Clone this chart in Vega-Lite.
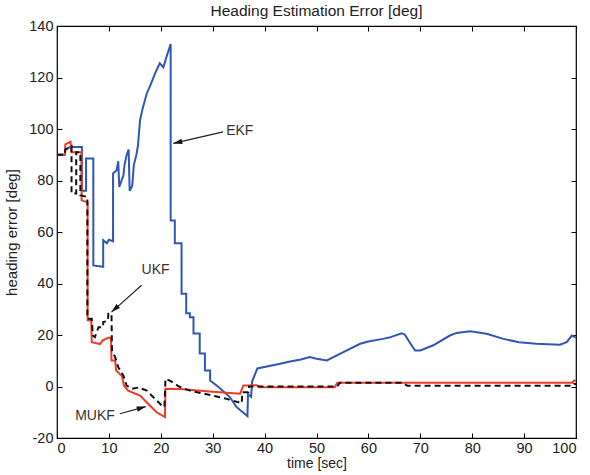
{
  "$schema": "https://vega.github.io/schema/vega-lite/v6.json",
  "width": 519,
  "height": 412,
  "autosize": {"type": "none"},
  "padding": {"left": 57, "top": 26, "right": 14, "bottom": 37},
  "background": "white",
  "title": {"text": "Heading Estimation Error [deg]", "font": "Liberation Sans", "fontSize": 15.5, "fontWeight": "normal", "color": "#222", "offset": -1},
  "config": {
    "view": {"stroke": "#000", "strokeWidth": 1.2},
    "axis": {
      "domain": false, "grid": false,
      "tickSize": -5, "tickColor": "#000", "tickWidth": 1,
      "labelFont": "Liberation Sans", "labelFontSize": 14.5, "labelColor": "#222",
      "labelExpr": "'' + datum.value",
      "titleFont": "Liberation Sans", "titleFontSize": 15, "titleFontWeight": "normal", "titleColor": "#222"
    }
  },
  "datasets": {
    "series": [
      {"t": 0, "v": 90, "f": "EKF"}, {"t": 1.5, "v": 90, "f": "EKF"}, {"t": 1.6, "v": 92, "f": "EKF"}, {"t": 2.5, "v": 93, "f": "EKF"},
      {"t": 4.8, "v": 93, "f": "EKF"}, {"t": 4.8, "v": 76, "f": "EKF"}, {"t": 5.6, "v": 76, "f": "EKF"}, {"t": 5.6, "v": 88.5, "f": "EKF"},
      {"t": 7.0, "v": 88.5, "f": "EKF"}, {"t": 7.0, "v": 47, "f": "EKF"}, {"t": 8.9, "v": 46.5, "f": "EKF"}, {"t": 8.9, "v": 56.8, "f": "EKF"},
      {"t": 9.6, "v": 55.6, "f": "EKF"}, {"t": 10.0, "v": 57, "f": "EKF"}, {"t": 10.8, "v": 56.4, "f": "EKF"}, {"t": 10.8, "v": 82.7, "f": "EKF"},
      {"t": 11.5, "v": 84, "f": "EKF"}, {"t": 11.8, "v": 87.5, "f": "EKF"}, {"t": 12.0, "v": 77.5, "f": "EKF"}, {"t": 12.8, "v": 82, "f": "EKF"},
      {"t": 13.0, "v": 86, "f": "EKF"}, {"t": 13.4, "v": 89.8, "f": "EKF"}, {"t": 13.8, "v": 92, "f": "EKF"}, {"t": 14.0, "v": 76, "f": "EKF"},
      {"t": 14.5, "v": 78, "f": "EKF"}, {"t": 14.8, "v": 86, "f": "EKF"}, {"t": 15.3, "v": 90, "f": "EKF"}, {"t": 15.6, "v": 93.5, "f": "EKF"},
      {"t": 16.0, "v": 103.4, "f": "EKF"}, {"t": 16.5, "v": 108, "f": "EKF"}, {"t": 17.3, "v": 113.8, "f": "EKF"}, {"t": 18.0, "v": 117, "f": "EKF"},
      {"t": 18.9, "v": 121.6, "f": "EKF"}, {"t": 19.8, "v": 125.5, "f": "EKF"}, {"t": 20.5, "v": 124, "f": "EKF"}, {"t": 21.1, "v": 128, "f": "EKF"},
      {"t": 21.9, "v": 133, "f": "EKF"}, {"t": 21.9, "v": 64.5, "f": "EKF"}, {"t": 22.7, "v": 64.5, "f": "EKF"}, {"t": 22.7, "v": 55.6, "f": "EKF"},
      {"t": 24.0, "v": 55.6, "f": "EKF"}, {"t": 24.0, "v": 36, "f": "EKF"}, {"t": 24.9, "v": 36, "f": "EKF"}, {"t": 24.9, "v": 28.4, "f": "EKF"},
      {"t": 25.6, "v": 28.4, "f": "EKF"}, {"t": 25.6, "v": 26.9, "f": "EKF"}, {"t": 26.3, "v": 26.9, "f": "EKF"}, {"t": 26.3, "v": 20.6, "f": "EKF"},
      {"t": 27.5, "v": 20.6, "f": "EKF"}, {"t": 27.5, "v": 12.8, "f": "EKF"}, {"t": 28.5, "v": 12.8, "f": "EKF"}, {"t": 28.5, "v": 6.2, "f": "EKF"},
      {"t": 29.5, "v": 6.2, "f": "EKF"}, {"t": 29.5, "v": 2.3, "f": "EKF"}, {"t": 31, "v": 0, "f": "EKF"}, {"t": 33.3, "v": -4.1, "f": "EKF"},
      {"t": 34.6, "v": -8, "f": "EKF"}, {"t": 35.5, "v": -9.5, "f": "EKF"}, {"t": 36.7, "v": -11.5, "f": "EKF"}, {"t": 36.8, "v": -3, "f": "EKF"},
      {"t": 37.4, "v": -4, "f": "EKF"}, {"t": 37.6, "v": 2, "f": "EKF"}, {"t": 38.3, "v": 5.5, "f": "EKF"}, {"t": 38.6, "v": 7, "f": "EKF"},
      {"t": 43, "v": 8.8, "f": "EKF"}, {"t": 44.9, "v": 9.7, "f": "EKF"}, {"t": 47, "v": 10.5, "f": "EKF"}, {"t": 48.7, "v": 11.4, "f": "EKF"},
      {"t": 50, "v": 10.8, "f": "EKF"}, {"t": 52, "v": 10.1, "f": "EKF"}, {"t": 54.5, "v": 12.7, "f": "EKF"}, {"t": 58.4, "v": 16.6, "f": "EKF"},
      {"t": 60, "v": 17.5, "f": "EKF"}, {"t": 62.8, "v": 18.5, "f": "EKF"}, {"t": 64, "v": 19, "f": "EKF"}, {"t": 66.4, "v": 20.7, "f": "EKF"},
      {"t": 67, "v": 20.2, "f": "EKF"}, {"t": 68, "v": 17, "f": "EKF"}, {"t": 69, "v": 14, "f": "EKF"}, {"t": 70, "v": 14, "f": "EKF"},
      {"t": 72.5, "v": 16, "f": "EKF"}, {"t": 75.7, "v": 19.8, "f": "EKF"}, {"t": 77, "v": 20.8, "f": "EKF"}, {"t": 79.6, "v": 21.5, "f": "EKF"},
      {"t": 82.8, "v": 20.5, "f": "EKF"}, {"t": 86, "v": 18.5, "f": "EKF"}, {"t": 89, "v": 17.2, "f": "EKF"}, {"t": 92.4, "v": 16.6, "f": "EKF"},
      {"t": 96.9, "v": 16.2, "f": "EKF"}, {"t": 98.2, "v": 17.2, "f": "EKF"}, {"t": 99.2, "v": 19.8, "f": "EKF"}, {"t": 100, "v": 19, "f": "EKF"},

      {"t": 0, "v": 90, "f": "MUKF"}, {"t": 1.5, "v": 90, "f": "MUKF"}, {"t": 1.6, "v": 94, "f": "MUKF"}, {"t": 2.6, "v": 95, "f": "MUKF"},
      {"t": 2.8, "v": 91, "f": "MUKF"}, {"t": 4.7, "v": 91, "f": "MUKF"}, {"t": 4.75, "v": 72.3, "f": "MUKF"}, {"t": 5.9, "v": 71.5, "f": "MUKF"},
      {"t": 5.9, "v": 25.7, "f": "MUKF"}, {"t": 6.6, "v": 25.7, "f": "MUKF"}, {"t": 6.7, "v": 17.2, "f": "MUKF"}, {"t": 8.3, "v": 16.5, "f": "MUKF"},
      {"t": 8.8, "v": 17.9, "f": "MUKF"}, {"t": 9.9, "v": 18.9, "f": "MUKF"}, {"t": 10.4, "v": 19, "f": "MUKF"}, {"t": 10.5, "v": 10.1, "f": "MUKF"},
      {"t": 11.2, "v": 10.1, "f": "MUKF"}, {"t": 11.4, "v": 6.2, "f": "MUKF"}, {"t": 12.1, "v": 4.9, "f": "MUKF"}, {"t": 12.5, "v": 4.2, "f": "MUKF"},
      {"t": 12.9, "v": 0.4, "f": "MUKF"}, {"t": 13.7, "v": -1.6, "f": "MUKF"}, {"t": 16, "v": -3.5, "f": "MUKF"}, {"t": 17.9, "v": -7.4, "f": "MUKF"},
      {"t": 19.2, "v": -10, "f": "MUKF"}, {"t": 20.8, "v": -11.9, "f": "MUKF"}, {"t": 20.9, "v": -0.9, "f": "MUKF"}, {"t": 23.7, "v": -1, "f": "MUKF"},
      {"t": 30, "v": -2, "f": "MUKF"}, {"t": 35.3, "v": -2.8, "f": "MUKF"}, {"t": 35.9, "v": 0.4, "f": "MUKF"}, {"t": 36.9, "v": 0.4, "f": "MUKF"},
      {"t": 38.5, "v": 0.5, "f": "MUKF"}, {"t": 39, "v": -0.3, "f": "MUKF"}, {"t": 53.5, "v": -0.3, "f": "MUKF"}, {"t": 54, "v": 1.5, "f": "MUKF"},
      {"t": 99.3, "v": 1.5, "f": "MUKF"}, {"t": 99.6, "v": 2.3, "f": "MUKF"}, {"t": 100, "v": 2.3, "f": "MUKF"},

      {"t": 0, "v": 90, "f": "UKF"}, {"t": 1.5, "v": 90, "f": "UKF"}, {"t": 1.6, "v": 92, "f": "UKF"}, {"t": 2.8, "v": 93.3, "f": "UKF"},
      {"t": 2.8, "v": 75, "f": "UKF"}, {"t": 3.7, "v": 75, "f": "UKF"}, {"t": 3.7, "v": 91, "f": "UKF"}, {"t": 4.5, "v": 91, "f": "UKF"},
      {"t": 4.5, "v": 74.3, "f": "UKF"}, {"t": 5.85, "v": 73.6, "f": "UKF"}, {"t": 5.85, "v": 26.3, "f": "UKF"}, {"t": 6.7, "v": 26.3, "f": "UKF"},
      {"t": 6.9, "v": 19.8, "f": "UKF"}, {"t": 7.3, "v": 19.2, "f": "UKF"}, {"t": 8.0, "v": 23, "f": "UKF"}, {"t": 8.9, "v": 23, "f": "UKF"},
      {"t": 8.9, "v": 25, "f": "UKF"}, {"t": 9.8, "v": 25.5, "f": "UKF"}, {"t": 9.9, "v": 28.3, "f": "UKF"}, {"t": 10.5, "v": 28.3, "f": "UKF"},
      {"t": 10.6, "v": 14, "f": "UKF"}, {"t": 11.2, "v": 11.4, "f": "UKF"}, {"t": 11.8, "v": 7.5, "f": "UKF"}, {"t": 12.8, "v": 4.2, "f": "UKF"},
      {"t": 13.4, "v": 0.4, "f": "UKF"}, {"t": 14.4, "v": -0.9, "f": "UKF"}, {"t": 15.7, "v": -0.4, "f": "UKF"}, {"t": 17.3, "v": -1.6, "f": "UKF"},
      {"t": 18.9, "v": -4.8, "f": "UKF"}, {"t": 20.2, "v": -7.4, "f": "UKF"}, {"t": 20.7, "v": -8, "f": "UKF"}, {"t": 20.9, "v": 3, "f": "UKF"},
      {"t": 22, "v": 2, "f": "UKF"}, {"t": 23.5, "v": 0, "f": "UKF"}, {"t": 25.6, "v": -1.6, "f": "UKF"}, {"t": 29.5, "v": -3.3, "f": "UKF"},
      {"t": 32.7, "v": -4.8, "f": "UKF"}, {"t": 35.6, "v": -6.5, "f": "UKF"}, {"t": 35.7, "v": -2.2, "f": "UKF"}, {"t": 36.9, "v": -2.2, "f": "UKF"},
      {"t": 37.0, "v": 0, "f": "UKF"}, {"t": 54, "v": 0, "f": "UKF"}, {"t": 54.5, "v": 1.5, "f": "UKF"}, {"t": 66.5, "v": 1.5, "f": "UKF"},
      {"t": 67.5, "v": 0.3, "f": "UKF"}, {"t": 99.3, "v": 0.3, "f": "UKF"}, {"t": 99.6, "v": 1, "f": "UKF"}, {"t": 100, "v": 1, "f": "UKF"}
    ],
    "notes": [
      {"f": "EKF", "tx": 32.4, "ty": 99.1, "x1": 32.0, "y1": 98.9, "x2": 22.4, "y2": 94.4},
      {"f": "UKF", "tx": 16.3, "ty": 42.5, "x1": 16.3, "y1": 39.3, "x2": 10.5, "y2": 28.9},
      {"f": "MUKF", "tx": 3.5, "ty": -11.3, "x1": 12.1, "y1": -10.6, "x2": 17.1, "y2": -7.8}
    ]
  },
  "resolve": {"axis": {"x": "independent", "y": "independent"}},
  "layer": [
    {
      "layer": [
        {
          "data": {"name": "series"},
          "transform": [{"filter": "datum.f === 'EKF'"}],
          "mark": {"type": "line", "color": "#3156b4", "strokeWidth": 2},
          "encoding": {
            "x": {"field": "t", "type": "quantitative", "scale": {"domain": [0, 100], "nice": false},
                  "axis": {"values": [0, 10, 20, 30, 40, 50, 60, 70, 80, 90, 100], "title": "time [sec]", "titleFontSize": 14, "labelPadding": 8, "titlePadding": 2}},
            "y": {"field": "v", "type": "quantitative", "scale": {"domain": [-20, 140], "nice": false},
                  "axis": {"values": [-20, 0, 20, 40, 60, 80, 100, 120, 140], "title": "heading error [deg]", "labelPadding": 9, "titlePadding": 9}},
            "order": {"value": null}
          }
        },
        {
          "data": {"name": "series"},
          "transform": [{"filter": "datum.f === 'MUKF'"}],
          "mark": {"type": "line", "color": "#ef3b24", "strokeWidth": 2},
          "encoding": {
            "x": {"field": "t", "type": "quantitative"},
            "y": {"field": "v", "type": "quantitative"},
            "order": {"value": null}
          }
        },
        {
          "data": {"name": "series"},
          "transform": [{"filter": "datum.f === 'UKF'"}],
          "mark": {"type": "line", "color": "#111", "strokeWidth": 2, "strokeDash": [6, 4]},
          "encoding": {
            "x": {"field": "t", "type": "quantitative"},
            "y": {"field": "v", "type": "quantitative"},
            "order": {"value": null}
          }
        },
        {
          "data": {"name": "notes"},
          "mark": {"type": "rule", "color": "#222", "strokeWidth": 1.2},
          "encoding": {
            "x": {"field": "x1", "type": "quantitative"},
            "y": {"field": "y1", "type": "quantitative"},
            "x2": {"field": "x2"},
            "y2": {"field": "y2"}
          }
        },
        {
          "data": {"name": "notes"},
          "transform": [{"filter": "datum.f === 'EKF'"}],
          "mark": {"type": "point", "shape": "M0,0L-0.45,1.5L0.45,1.5Z", "filled": true, "color": "#111", "size": 144, "angle": 257, "opacity": 1},
          "encoding": {"x": {"field": "x2", "type": "quantitative"}, "y": {"field": "y2", "type": "quantitative"}}
        },
        {
          "data": {"name": "notes"},
          "transform": [{"filter": "datum.f === 'UKF'"}],
          "mark": {"type": "point", "shape": "M0,0L-0.45,1.5L0.45,1.5Z", "filled": true, "color": "#111", "size": 144, "angle": 228, "opacity": 1},
          "encoding": {"x": {"field": "x2", "type": "quantitative"}, "y": {"field": "y2", "type": "quantitative"}}
        },
        {
          "data": {"name": "notes"},
          "transform": [{"filter": "datum.f === 'MUKF'"}],
          "mark": {"type": "point", "shape": "M0,0L-0.45,1.5L0.45,1.5Z", "filled": true, "color": "#111", "size": 144, "angle": 74, "opacity": 1},
          "encoding": {"x": {"field": "x2", "type": "quantitative"}, "y": {"field": "y2", "type": "quantitative"}}
        },
        {
          "data": {"name": "notes"},
          "transform": [{"filter": "datum.f === 'EKF'"}],
          "mark": {"type": "text", "align": "left", "baseline": "middle", "font": "Liberation Sans", "fontSize": 14, "color": "#333", "dx": 1},
          "encoding": {"x": {"field": "tx", "type": "quantitative"}, "y": {"field": "ty", "type": "quantitative"}, "text": {"field": "f"}}
        },
        {
          "data": {"name": "notes"},
          "transform": [{"filter": "datum.f === 'UKF'"}],
          "mark": {"type": "text", "align": "left", "baseline": "bottom", "font": "Liberation Sans", "fontSize": 14, "color": "#333"},
          "encoding": {"x": {"field": "tx", "type": "quantitative"}, "y": {"field": "ty", "type": "quantitative"}, "text": {"field": "f"}}
        },
        {
          "data": {"name": "notes"},
          "transform": [{"filter": "datum.f === 'MUKF'"}],
          "mark": {"type": "text", "align": "left", "baseline": "middle", "font": "Liberation Sans", "fontSize": 14, "color": "#333"},
          "encoding": {"x": {"field": "tx", "type": "quantitative"}, "y": {"field": "ty", "type": "quantitative"}, "text": {"field": "f"}}
        }
      ]
    },
    {
      "data": {"name": "notes"},
      "mark": {"type": "point", "opacity": 0},
      "encoding": {
        "x": {"field": "x1", "type": "quantitative", "axis": {"orient": "top", "labels": false, "title": null, "values": [0, 10, 20, 30, 40, 50, 60, 70, 80, 90, 100]}},
        "y": {"field": "y1", "type": "quantitative", "axis": {"orient": "right", "labels": false, "title": null, "values": [-20, 0, 20, 40, 60, 80, 100, 120, 140]}}
      }
    }
  ]
}
